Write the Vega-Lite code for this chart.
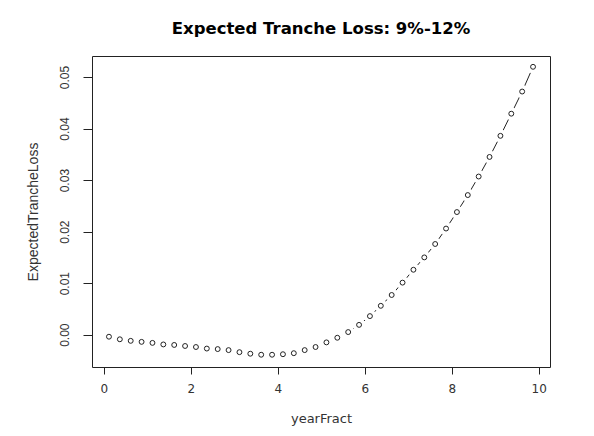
{
  "$schema": "https://vega.github.io/schema/vega-lite/v6.json",
  "autosize": "none",
  "width": 458,
  "height": 311,
  "padding": {"left": 92, "top": 56, "right": 44, "bottom": 69},
  "background": "white",
  "title": {"text": "Expected Tranche Loss: 9%-12%", "font": "DejaVu Sans", "fontSize": 16.5, "fontWeight": "bold", "color": "#000", "anchor": "middle", "frame": "group", "offset": 19},
  "config": {
    "view": {"stroke": "#222", "strokeWidth": 1},
    "axis": {"labelFont": "Liberation Sans", "titleFont": "Liberation Sans", "labelFontSize": 12, "titleFontSize": 13, "titleFontWeight": "normal", "labelColor": "#333", "titleColor": "#333", "domain": false, "grid": false, "ticks": true, "tickColor": "#222", "tickSize": 7}
  },
  "data": {"values": [
    {"yearFract": 0.12, "ExpectedTrancheLoss": -0.0004},
    {"yearFract": 0.37, "ExpectedTrancheLoss": -0.0009},
    {"yearFract": 0.62, "ExpectedTrancheLoss": -0.0012},
    {"yearFract": 0.87, "ExpectedTrancheLoss": -0.0014},
    {"yearFract": 1.12, "ExpectedTrancheLoss": -0.0016},
    {"yearFract": 1.37, "ExpectedTrancheLoss": -0.0019},
    {"yearFract": 1.62, "ExpectedTrancheLoss": -0.0020},
    {"yearFract": 1.87, "ExpectedTrancheLoss": -0.0022},
    {"yearFract": 2.12, "ExpectedTrancheLoss": -0.0024},
    {"yearFract": 2.37, "ExpectedTrancheLoss": -0.0027},
    {"yearFract": 2.62, "ExpectedTrancheLoss": -0.0028},
    {"yearFract": 2.87, "ExpectedTrancheLoss": -0.0030},
    {"yearFract": 3.12, "ExpectedTrancheLoss": -0.0034},
    {"yearFract": 3.37, "ExpectedTrancheLoss": -0.0037},
    {"yearFract": 3.62, "ExpectedTrancheLoss": -0.0039},
    {"yearFract": 3.87, "ExpectedTrancheLoss": -0.0039},
    {"yearFract": 4.12, "ExpectedTrancheLoss": -0.0038},
    {"yearFract": 4.37, "ExpectedTrancheLoss": -0.0036},
    {"yearFract": 4.62, "ExpectedTrancheLoss": -0.0030},
    {"yearFract": 4.87, "ExpectedTrancheLoss": -0.0024},
    {"yearFract": 5.12, "ExpectedTrancheLoss": -0.0015},
    {"yearFract": 5.37, "ExpectedTrancheLoss": -0.0006},
    {"yearFract": 5.62, "ExpectedTrancheLoss": 0.0005},
    {"yearFract": 5.87, "ExpectedTrancheLoss": 0.0019},
    {"yearFract": 6.12, "ExpectedTrancheLoss": 0.0036},
    {"yearFract": 6.37, "ExpectedTrancheLoss": 0.0056},
    {"yearFract": 6.62, "ExpectedTrancheLoss": 0.0077},
    {"yearFract": 6.87, "ExpectedTrancheLoss": 0.0101},
    {"yearFract": 7.12, "ExpectedTrancheLoss": 0.0126},
    {"yearFract": 7.37, "ExpectedTrancheLoss": 0.0150},
    {"yearFract": 7.62, "ExpectedTrancheLoss": 0.0176},
    {"yearFract": 7.87, "ExpectedTrancheLoss": 0.0206},
    {"yearFract": 8.12, "ExpectedTrancheLoss": 0.0238},
    {"yearFract": 8.37, "ExpectedTrancheLoss": 0.0271},
    {"yearFract": 8.62, "ExpectedTrancheLoss": 0.0307},
    {"yearFract": 8.87, "ExpectedTrancheLoss": 0.0345},
    {"yearFract": 9.12, "ExpectedTrancheLoss": 0.0386},
    {"yearFract": 9.37, "ExpectedTrancheLoss": 0.0429},
    {"yearFract": 9.62, "ExpectedTrancheLoss": 0.0472},
    {"yearFract": 9.87, "ExpectedTrancheLoss": 0.0520}
  ]},
  "encoding": {
    "x": {"field": "yearFract", "type": "quantitative", "scale": {"domain": [-0.27, 10.26], "nice": false, "zero": false},
      "axis": {"values": [0, 2, 4, 6, 8, 10], "labelFont": "DejaVu Sans", "labelFontSize": 12, "titleFont": "DejaVu Sans", "titleFontSize": 13, "labelPadding": 9, "titlePadding": 18, "title": "yearFract"}},
    "y": {"field": "ExpectedTrancheLoss", "type": "quantitative", "scale": {"domain": [-0.00628, 0.0541], "nice": false, "zero": false},
      "axis": {"values": [0, 0.01, 0.02, 0.03, 0.04, 0.05], "format": ".2f", "tickSize": 9, "labelAngle": 270, "labelAlign": "center", "labelBaseline": "bottom", "labelPadding": 12, "titleFontSize": 14, "titlePadding": 18, "title": "ExpectedTrancheLoss"}}
  },
  "layer": [
    {"mark": {"type": "line", "color": "#222", "strokeWidth": 1}},
    {"mark": {"type": "point", "shape": "circle", "filled": true, "color": "white", "opacity": 1, "size": 170}},
    {"mark": {"type": "point", "shape": "circle", "filled": false, "color": "#222", "opacity": 1, "size": 24, "strokeWidth": 1}}
  ]
}
